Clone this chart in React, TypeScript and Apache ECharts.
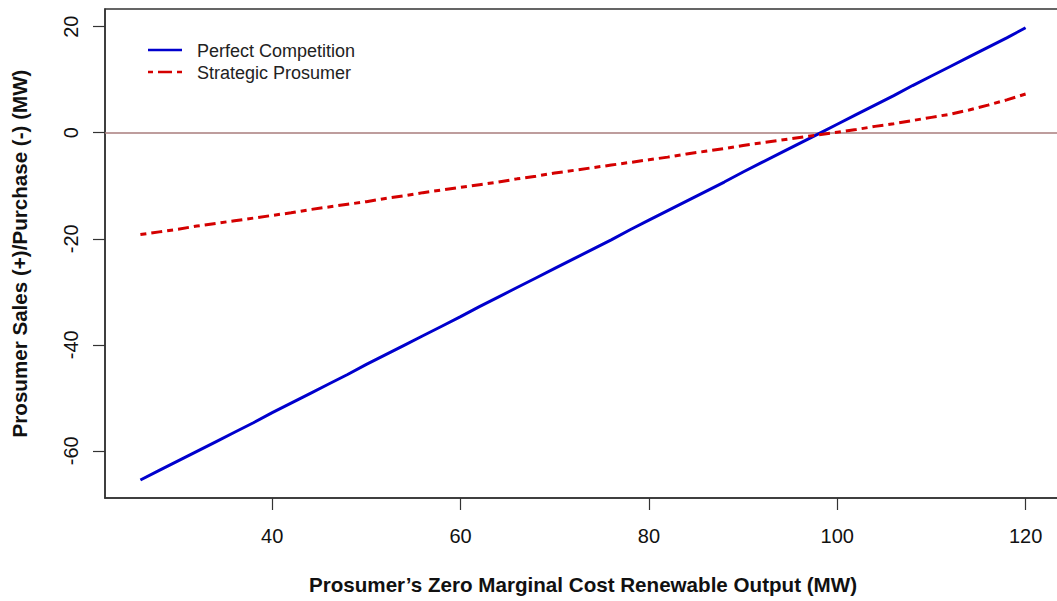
import React, { useEffect, useRef } from "react";
import * as echarts from "echarts";

const xValues = [26, 28, 30, 32, 34, 36, 38, 40, 42, 44, 46, 48, 50, 52, 54, 56, 58, 60, 62, 64, 66, 68, 70, 72, 74, 76, 78, 80, 82, 84, 86, 88, 90, 92, 94, 96, 98, 100, 102, 104, 106, 108, 110, 112, 114, 116, 118, 120];
const perfectCompetition = [-65.5, -63.7, -61.9, -60.1, -58.3, -56.5, -54.7, -52.8, -51.0, -49.2, -47.4, -45.6, -43.7, -41.9, -40.1, -38.3, -36.5, -34.7, -32.8, -31.0, -29.2, -27.4, -25.6, -23.8, -22.0, -20.2, -18.3, -16.5, -14.7, -12.9, -11.1, -9.3, -7.4, -5.6, -3.8, -2.0, -0.2, 1.6, 3.4, 5.2, 7.0, 8.9, 10.7, 12.5, 14.3, 16.1, 17.9, 19.8];
const strategicProsumer = [-19.2, -18.7, -18.2, -17.6, -17.1, -16.6, -16.1, -15.6, -15.1, -14.5, -14.0, -13.5, -13.0, -12.4, -11.9, -11.3, -10.8, -10.3, -9.8, -9.3, -8.7, -8.2, -7.6, -7.1, -6.6, -6.1, -5.6, -5.1, -4.6, -4.0, -3.5, -3.0, -2.4, -1.9, -1.4, -0.9, -0.4, 0.1, 0.6, 1.2, 1.7, 2.3, 2.9, 3.5, 4.3, 5.2, 6.2, 7.3];
const xTicks = [40, 60, 80, 100, 120];
const yTicks = [-60, -40, -20, 0, 20];
const seriesNames = ["Perfect Competition", "Strategic Prosumer"];

const BLUE = "#0000cd";
const RED = "#d40000";
const FONT = "'Liberation Sans', Arial, sans-serif";

export default function App() {
  const ref = useRef<HTMLDivElement>(null);
  useEffect(() => {
    if (!ref.current) return;
    const chart = echarts.init(ref.current, null, { renderer: "svg" });
    const pc = xValues.map((x, i) => [x, perfectCompetition[i]]);
    const sp = xValues.map((x, i) => [x, strategicProsumer[i]]);
    chart.setOption({
      animation: false,
      backgroundColor: "#ffffff",
      textStyle: { fontFamily: FONT },
      grid: {
        left: 105,
        top: 9,
        right: -4,
        bottom: 103,
        show: true,
        borderColor: "#333",
        borderWidth: 1.5,
        containLabel: false,
        outerBoundsMode: "none",
      },
      xAxis: {
        type: "value",
        min: 22.24,
        max: 123.76,
        splitLine: { show: false },
        axisLine: { show: true, onZero: false, lineStyle: { color: "#333", width: 1.5 } },
        axisTick: { show: true, length: 12, customValues: xTicks, lineStyle: { color: "#333", width: 1.2 } },
        axisLabel: {
          customValues: xTicks,
          fontSize: 20,
          color: "#111",
          margin: 28,
          fontFamily: FONT,
        },
        name: "Prosumer\u2019s Zero Marginal Cost Renewable Output (MW)",
        nameLocation: "middle",
        nameGap: 76,
        nameTextStyle: { fontSize: 20.6, fontWeight: "bold", color: "#111", fontFamily: FONT },
      },
      yAxis: {
        type: "value",
        min: -68.9,
        max: 23.34,
        splitLine: { show: false },
        axisLine: { show: true, onZero: false, lineStyle: { color: "#333", width: 1.5 } },
        axisTick: { show: true, length: 12, customValues: yTicks, lineStyle: { color: "#333", width: 1.2 } },
        axisLabel: {
          customValues: yTicks,
          fontSize: 20,
          color: "#111",
          margin: 24,
          rotate: 90,
          fontFamily: FONT,
        },
        name: "Prosumer Sales (+)/Purchase (-) (MW)",
        nameLocation: "middle",
        nameGap: 75,
        nameTextStyle: { fontSize: 20.6, fontWeight: "bold", color: "#111", fontFamily: FONT },
      },
      series: [
        {
          name: seriesNames[0],
          type: "line",
          data: pc,
          showSymbol: false,
          lineStyle: { color: BLUE, width: 3 },
          z: 3,
          markLine: {
            silent: true,
            symbol: "none",
            label: { show: false },
            lineStyle: { color: "#a97c7c", width: 1.5, type: "solid" },
            data: [{ yAxis: 0 }],
            z: 1,
          },
        },
        {
          name: seriesNames[1],
          type: "line",
          data: sp,
          showSymbol: false,
          lineStyle: { color: RED, width: 3, type: [6, 5, 11, 5] },
          z: 4,
        },
      ],
      graphic: [
        { type: "line", shape: { x1: 148, y1: 50, x2: 182, y2: 50 }, style: { stroke: BLUE, lineWidth: 2.5 } },
        { type: "line", shape: { x1: 148, y1: 72, x2: 182, y2: 72 }, style: { stroke: RED, lineWidth: 2.5, lineDash: [5, 5, 14, 5] } },
        { type: "text", x: 197, y: 51, style: { text: seriesNames[0], fontSize: 18, fontFamily: FONT, fill: "#222", verticalAlign: "middle" } },
        { type: "text", x: 197, y: 73, style: { text: seriesNames[1], fontSize: 18, fontFamily: FONT, fill: "#222", verticalAlign: "middle" } },
      ],
    });
    return () => chart.dispose();
  }, []);
  return <div ref={ref} style={{ position: "fixed", left: 0, top: 0, width: 1057, height: 601 }} />;
}
